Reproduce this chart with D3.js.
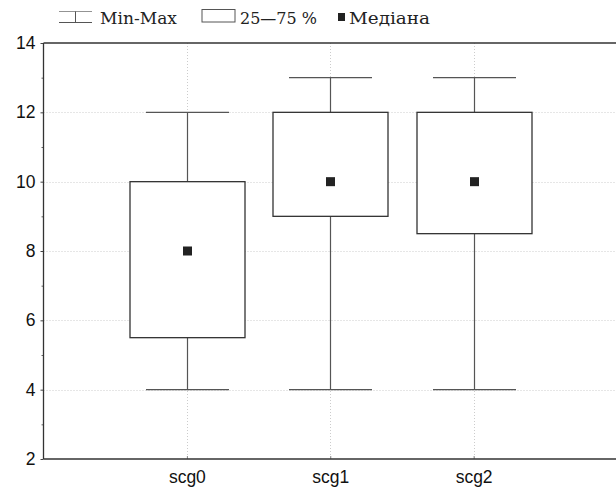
<!DOCTYPE html>
<html><head><meta charset="utf-8">
<script src="https://cdn.jsdelivr.net/npm/d3@7"></script>
<style>body{margin:0;background:#fff}svg{display:block}</style>
</head><body>
<script>
const categories = ["scg0","scg1","scg2"];
const minVals = [4,4,4];
const q1Vals = [5.5,9,8.5];
const medianVals = [8,10,10];
const q3Vals = [10,12,12];
const maxVals = [12,13,13];
const yTicks = [2,4,6,8,10,12,14];
const legendLabels = ["Min-Max","25\u201475 %","Медіана"];

const W=616,H=490;
const m={l:43.5,t:43,r:-1,b:31};
const svg=d3.select("body").append("svg").attr("width",W).attr("height",H);
const x=d3.scalePoint().domain(["",...categories,"_"]).range([m.l,W-m.r]);
const y=d3.scaleLinear().domain([2,14]).range([H-m.b,m.t]);

// grid
const g=svg.append("g");
g.selectAll(".hg").data(yTicks.filter(d=>d>2&&d<14)).join("line")
 .attr("x1",m.l).attr("x2",W).attr("y1",d=>Math.round(y(d))+.5).attr("y2",d=>Math.round(y(d))+.5)
 .attr("stroke","#ccc").attr("stroke-dasharray","1,2");
g.selectAll(".vg").data(categories).join("line")
 .attr("x1",d=>Math.round(x(d))+.5).attr("x2",d=>Math.round(x(d))+.5).attr("y1",m.t).attr("y2",H-m.b)
 .attr("stroke","#ccc").attr("stroke-dasharray","1,2");

// axes
const font="'Liberation Sans',Arial,sans-serif";
const ya=svg.append("g").attr("transform",`translate(${m.l},0)`)
 .call(d3.axisLeft(y).tickValues(yTicks).tickSize(3).tickPadding(5).tickFormat(d3.format("d")));
ya.select(".domain").remove();
ya.selectAll("text").attr("font-family",font).attr("font-size",17.5).attr("fill","#111");
ya.selectAll("line").attr("stroke","#444");
svg.append("g").attr("transform",`translate(${m.l},0)`)
 .call(d3.axisLeft(y).tickValues([3,5,7,9,11,13]).tickSize(2).tickFormat(""))
 .call(s=>{s.select(".domain").remove();s.selectAll("line").attr("stroke","#666");});
const xa=svg.append("g").attr("transform",`translate(0,${H-m.b})`)
 .call(d3.axisBottom(x).tickValues(categories).tickSize(-3).tickPadding(12));
xa.select(".domain").remove();
xa.selectAll("text").attr("font-family",font).attr("font-size",17.5).attr("fill","#111");
xa.selectAll("line").attr("stroke","#888");
// frame lines
svg.append("line").attr("x1",m.l).attr("x2",m.l).attr("y1",m.t).attr("y2",H-m.b).attr("stroke","#333").attr("stroke-width",1.3);
svg.append("line").attr("x1",m.l).attr("x2",W).attr("y1",m.t).attr("y2",m.t).attr("stroke","#333").attr("stroke-width",1.3);
svg.append("line").attr("x1",m.l).attr("x2",W).attr("y1",H-m.b).attr("y2",H-m.b).attr("stroke","#333").attr("stroke-width",1.5);

const data=categories.map((c,i)=>({c,min:minVals[i],q1:q1Vals[i],med:medianVals[i],q3:q3Vals[i],max:maxVals[i]}));
const bw=115, cw=83;
const b=svg.append("g").selectAll("g").data(data).join("g");
const cx=d=>Math.round(x(d.c))+.5;
b.append("line").attr("x1",cx).attr("x2",cx).attr("y1",d=>y(d.max)).attr("y2",d=>y(d.q3)).attr("stroke","#555").attr("stroke-width",1.2);
b.append("line").attr("x1",cx).attr("x2",cx).attr("y1",d=>y(d.q1)).attr("y2",d=>y(d.min)).attr("stroke","#555").attr("stroke-width",1.2);
b.append("line").attr("x1",d=>cx(d)-cw/2).attr("x2",d=>cx(d)+cw/2).attr("y1",d=>y(d.max)).attr("y2",d=>y(d.max)).attr("stroke","#555").attr("stroke-width",1.2);
b.append("line").attr("x1",d=>cx(d)-cw/2).attr("x2",d=>cx(d)+cw/2).attr("y1",d=>y(d.min)).attr("y2",d=>y(d.min)).attr("stroke","#555").attr("stroke-width",1.2);
b.append("rect").attr("x",d=>cx(d)-bw/2).attr("width",bw).attr("y",d=>y(d.q3)).attr("height",d=>y(d.q1)-y(d.q3))
 .attr("fill","#fff").attr("stroke","#333").attr("stroke-width",1.3);
b.append("rect").attr("x",d=>cx(d)-4.5).attr("y",d=>y(d.med)-4.5).attr("width",9).attr("height",9).attr("fill","#222");

// legend
const lf="'DejaVu Serif','Liberation Serif',serif";
const L=svg.append("g");
L.append("line").attr("x1",59).attr("x2",92).attr("y1",22.5).attr("y2",22.5).attr("stroke","#555").attr("stroke-width",1.2);
L.append("line").attr("x1",75.5).attr("x2",75.5).attr("y1",11).attr("y2",22.5).attr("stroke","#555");
L.append("line").attr("x1",59).attr("x2",92).attr("y1",11.5).attr("y2",11.5).attr("stroke","#777").attr("stroke-width",0.8);
L.append("text").attr("x",100).attr("y",23.5).attr("textLength",77).text(legendLabels[0]);
L.append("rect").attr("x",202).attr("y",9.5).attr("width",33).attr("height",12.5).attr("fill","#fff").attr("stroke","#555");
L.append("text").attr("x",240).attr("y",23.5).attr("textLength",77).text(legendLabels[1]);
L.append("rect").attr("x",338).attr("y",13).attr("width",7).attr("height",8).attr("fill","#222");
L.append("text").attr("x",349).attr("y",23.5).attr("textLength",81).text(legendLabels[2]);
L.selectAll("text").attr("font-family",lf).attr("font-size",16.5).attr("fill","#222").attr("lengthAdjust","spacingAndGlyphs");
</script>
</body></html>
